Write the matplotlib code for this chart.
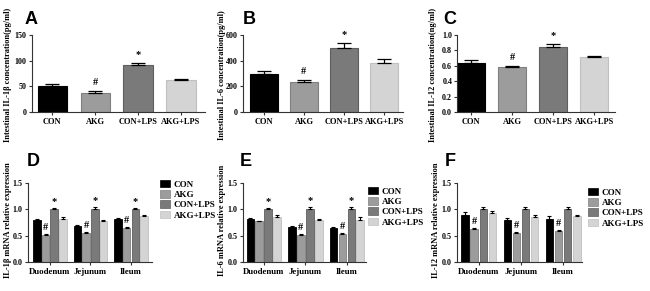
import numpy as np
import matplotlib.pyplot as plt
from matplotlib.patches import Patch

# ---- data ----
groups = ['CON', 'AKG', 'CON+LPS', 'AKG+LPS']
tissues = ['Duodenum', 'Jejunum', 'Ileum']
colors = ['#000000', '#9c9c9c', '#7a7a7a', '#d4d4d4']
edges = ['#000000', '#808080', '#5e5e5e', '#c0c0c0']

il1b_conc = [50, 37, 91, 62]
il1b_conc_err = [4, 3, 5, 2]
il6_conc = [300, 230, 500, 380]
il6_conc_err = [20, 18, 40, 32]
il12_conc = [0.64, 0.58, 0.84, 0.71]
il12_conc_err = [0.03, 0.02, 0.04, 0.02]
conc_marks = ['', '#', '*', '']

# rows = groups, cols = tissues
il1b_mrna = [[0.80, 0.69, 0.81],
             [0.51, 0.56, 0.65],
             [1.00, 1.00, 1.00],
             [0.82, 0.78, 0.88]]
il1b_mrna_err = [[0.01, 0.01, 0.02],
                 [0.02, 0.01, 0.02],
                 [0.03, 0.05, 0.03],
                 [0.04, 0.02, 0.01]]
il1b_marks = [['', '', ''], ['#', '#', '#'], ['*', '*', '*'], ['', '', '']]

il6_mrna = [[0.81, 0.67, 0.65],
            [0.77, 0.52, 0.53],
            [1.00, 1.00, 1.00],
            [0.86, 0.79, 0.80]]
il6_mrna_err = [[0.02, 0.02, 0.01],
                [0.01, 0.01, 0.02],
                [0.03, 0.04, 0.04],
                [0.04, 0.02, 0.05]]
il6_marks = [['', '', ''], ['', '#', '#'], ['*', '*', '*'], ['', '', '']]

il12_mrna = [[0.89, 0.79, 0.82],
             [0.63, 0.55, 0.58],
             [1.00, 1.00, 1.00],
             [0.93, 0.86, 0.87]]
il12_mrna_err = [[0.05, 0.04, 0.06],
                 [0.02, 0.02, 0.03],
                 [0.05, 0.05, 0.05],
                 [0.04, 0.04, 0.03]]
il12_marks = [['', '', ''], ['#', '#', '#'], ['', '', ''], ['', '', '']]

plt.rcParams['font.family'] = ['Liberation Serif', 'DejaVu Serif']
plt.rcParams['font.weight'] = 'bold'

W, H = 650, 291
fig = plt.figure(figsize=(6.5, 2.91), dpi=100)


def px_axes(left, top, width, height):
    return fig.add_axes([left / W, 1 - (top + height) / H, width / W, height / H])


def style(ax):
    for s in ['top', 'right']:
        ax.spines[s].set_visible(False)
    for s in ['left', 'bottom']:
        ax.spines[s].set_color('#333333')
        ax.spines[s].set_linewidth(0.8)
    ax.tick_params(length=2.5, width=0.8, color='#333333', labelsize=5.8, pad=1.5)
    for lab in ax.get_xticklabels() + ax.get_yticklabels():
        lab.set_fontweight('bold')


def conc_panel(ax, vals, errs, ymax, yticks, fmt, xlim, width):
    x = np.arange(len(groups))
    ax.bar(x, vals, width, color=colors, edgecolor=edges, linewidth=0.8,
           yerr=[np.zeros(4), errs], error_kw=dict(ecolor='black', elinewidth=0.9,
                                                   capsize=5, capthick=0.9))
    for xi, v, e, m in zip(x, vals, errs, conc_marks):
        if m:
            ax.annotate(m, (xi, v + e), xytext=(0, 3), textcoords='offset points',
                        ha='center', va='bottom', fontsize=7.5, fontweight='bold')
    ax.set_ylim(0, ymax)
    ax.set_xlim(*xlim)
    ax.set_yticks(yticks)
    ax.set_yticklabels([fmt.format(t) for t in yticks])
    ax.set_xticks(x)
    ax.set_xticklabels(groups)
    style(ax)
    ax.tick_params(axis='x', labelsize=6)


def mrna_panel(ax, vals, errs, marks, xlim, legend_xy):
    x = np.arange(len(tissues))
    pitch, width = 0.215, 0.185
    for g in range(4):
        xs = x + (g - 1.5) * pitch
        ax.bar(xs, vals[g], width, color=colors[g], edgecolor=edges[g], linewidth=0.6,
               yerr=[np.zeros(3), errs[g]],
               error_kw=dict(ecolor='black', elinewidth=0.8, capsize=1.5, capthick=0.8))
        for xi, v, e, m in zip(xs, vals[g], errs[g], marks[g]):
            if m:
                ax.annotate(m, (xi, v + e), xytext=(0, 1.5), textcoords='offset points',
                            ha='center', va='bottom', fontsize=7.5, fontweight='bold')
    ax.set_ylim(0, 1.5)
    ax.set_xlim(*xlim)
    ax.set_yticks([0, 0.5, 1.0, 1.5])
    ax.set_yticklabels(['0.0', '0.5', '1.0', '1.5'])
    ax.set_xticks(x)
    ax.set_xticklabels(tissues)
    style(ax)
    ax.tick_params(axis='x', labelsize=6.3)
    handles = [Patch(facecolor=c, edgecolor=e, linewidth=0.5) for c, e in zip(colors, edges)]
    fig.legend(handles, groups, loc='upper left',
               bbox_to_anchor=(legend_xy[0] / W, 1 - legend_xy[1] / H),
               frameon=False, handlelength=1.1, handleheight=0.9,
               handletextpad=0.4, labelspacing=0.15, borderpad=0, borderaxespad=0,
               prop=dict(weight='bold', size=6.5))


axA = px_axes(32, 35, 173, 77)
conc_panel(axA, il1b_conc, il1b_conc_err, 150, [0, 50, 100, 150], '{:.0f}',
           (-0.47, 3.56), 0.68)
axB = px_axes(243, 35, 160, 77)
conc_panel(axB, il6_conc, il6_conc_err, 600, [0, 200, 400, 600], '{:.0f}',
           (-0.52, 3.47), 0.7)
axC = px_axes(457, 35, 158, 77)
conc_panel(axC, il12_conc, il12_conc_err, 1.0, [0, 0.2, 0.4, 0.6, 0.8, 1.0], '{:.1f}',
           (-0.34, 3.51), 0.7)
axC.tick_params(axis='y', pad=1)

axD = px_axes(28, 183, 124, 79)
mrna_panel(axD, il1b_mrna, il1b_mrna_err, il1b_marks, (-0.54, 2.52), (160, 180))
axE = px_axes(243, 183, 123, 79)
mrna_panel(axE, il6_mrna, il6_mrna_err, il6_marks, (-0.5, 2.46), (368, 187))
axF = px_axes(457, 183, 125, 79)
mrna_panel(axF, il12_mrna, il12_mrna_err, il12_marks, (-0.52, 2.45), (588, 188))

# y labels
ylabels = [(8, 75, 'Intestinal IL-1β concentration(pg/ml)'),
           (222, 75, 'Intestinal IL-6 concentration(pg/ml)'),
           (433, 75, 'Intestinal IL-12 concentration(ng/ml)'),
           (8, 220, 'IL-1β mRNA relative expression'),
           (222, 220, 'IL-6 mRNA relative expression'),
           (436, 220, 'IL-12 mRNA relative expression')]
for x, y, t in ylabels:
    fig.text(x / W, 1 - y / H, t, rotation=90, ha='center', va='center',
             fontsize=6, fontweight='bold')

# panel letters
letters = [(25, 19, 'A'), (243, 19, 'B'), (443, 19, 'C'),
           (27, 161, 'D'), (240, 161, 'E'), (445, 161, 'F')]
for x, y, t in letters:
    fig.text(x / W, 1 - y / H, t, ha='left', va='center', fontsize=13,
             fontweight='bold', family='Liberation Sans')

fig.savefig('out.png', dpi=100)
